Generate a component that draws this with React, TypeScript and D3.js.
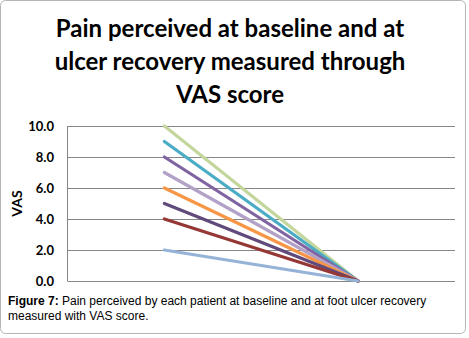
import React from "react";
import * as d3 from "d3";

const categories = ["Baseline", "Ulcer recovery"];
const baselineValues = [10, 9, 8, 7, 6, 5, 4, 2];
const recoveryValues = [0, 0, 0, 0, 0, 0, 0, 0];
const seriesColors = ["#C3D69B", "#4BACC6", "#8064A2", "#B3A2C7", "#F79646", "#604A7B", "#953735", "#95B3D7"];
const yTicks = [0, 2, 4, 6, 8, 10];
const titleLines = ["Pain perceived at baseline and at", "ulcer recovery measured through", "VAS score"];

export default function App() {
  const W = 469, H = 338;
  const left = 67.5, right = 455, top = 126, bottom = 281;
  const x = d3.scaleBand().domain(categories).range([left, right]);
  const y = d3.scaleLinear().domain([0, 10]).range([bottom, top]);
  const line = d3.line<[string, number]>()
    .x(d => (x(d[0]) as number) + x.bandwidth() / 2)
    .y(d => y(d[1]));
  return (
    <svg width={W} height={H} style={{ position: "absolute", left: 0, top: 0 }}>
      <rect x={0.5} y={0.5} width={465} height={333} rx={5} fill="#fff" stroke="#b5b5b5" />
      {titleLines.map((t, i) => (
        <text key={i} x={230} y={37 + i * 33} textAnchor="middle" fontFamily="Lato, 'Open Sans', sans-serif" fontWeight="bold" fontSize={24} fill="#000">{t}</text>
      ))}
      {yTicks.map(v => (
        <g key={v}>
          <line x1={left} x2={right} y1={Math.round(y(v)) + 0.5} y2={Math.round(y(v)) + 0.5} stroke="#868686" strokeWidth={1} />
          <text x={54} y={y(v) + 4.5} textAnchor="end" fontFamily="Lato, sans-serif" fontWeight="bold" fontSize={13} fill="#000">{v.toFixed(1)}</text>
        </g>
      ))}
      <line x1={left} x2={left} y1={top} y2={bottom} stroke="#868686" />
      <text transform={`translate(22,${(top + bottom) / 2}) rotate(-90)`} textAnchor="middle" fontFamily="Lato, sans-serif" fontWeight="bold" fontSize={14} fill="#000">VAS</text>
      {baselineValues.map((b, i) => (
        <path key={i} d={line([[categories[0], b], [categories[1], recoveryValues[i]]]) as string} fill="none" stroke={seriesColors[i]} strokeWidth={3.2} strokeLinecap="round" />
      ))}
      <text x={8} y={305} fontFamily="Arial, 'Liberation Sans', sans-serif" fontSize={12} fill="#000">
        <tspan fontWeight="bold">Figure 7:</tspan> Pain perceived by each patient at baseline and at foot ulcer recovery
      </text>
      <text x={8} y={320} fontFamily="Arial, 'Liberation Sans', sans-serif" fontSize={12} fill="#000">measured with VAS score.</text>
    </svg>
  );
}
